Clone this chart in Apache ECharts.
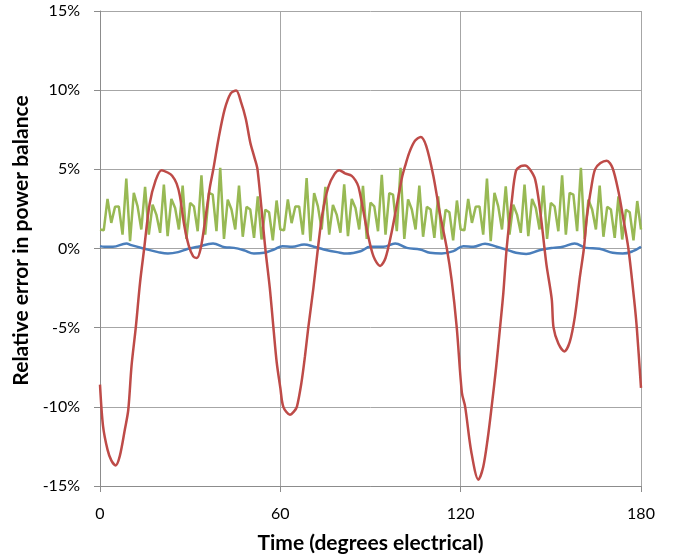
<!DOCTYPE html>
<html>
<head>
<meta charset="utf-8">
<script src="https://cdn.jsdelivr.net/npm/echarts@6/dist/echarts.min.js"></script>
<style>
html,body{margin:0;padding:0;background:#fff;}
#chart{width:681px;height:559px;}
</style>
</head>
<body>
<div id="chart"></div>
<script>
// Red series (degrees, %)
const redDeg = [0,1,2.5,3.8,5.2,6.6,8.3,9.4,10.5,11.9,13.3,14.7,16.5,18.5,20.5,22.5,24,25.5,26.6,28,29.5,31,32.2,33.5,35,36.5,37.7,39.5,41.5,43.5,45.3,47,48.5,50,51.3,52.4,55,56.5,57.7,58.8,60,61,63.2,64.5,65.5,67,68.2,69.3,71,72.5,74,76,78,79.6,81.5,83.7,85,86,87.5,89,91,93.2,95,97,99,100.5,101.5,103,104.8,106.7,108.5,110.9,113,115.4,117,118.7,120.4,121.5,123.5,125.9,127.5,129,130.3,131.8,133.1,134.2,135.3,137,138.4,140,141.4,143,144.8,146.5,147.9,148.6,150.3,150.9,152.5,154.5,156.3,158,159.7,161,162,163.5,164.7,166.5,168.6,170.5,172.5,174,175.8,177.7,178.6,180];
const redVal = [-8.6,-11.2,-12.7,-13.4,-13.7,-13.1,-11.4,-10.2,-7.4,-5,-2.2,0,2.8,4.3,4.95,4.8,4.6,4.1,3.3,1.5,0.2,-0.5,-0.6,0,1.8,3.8,5,7,8.8,9.8,9.98,9.2,8.2,6.7,5.8,5,0,-2.5,-5,-7.2,-8.8,-10,-10.5,-10.3,-10,-8.5,-6.8,-5,-2.5,0,2.2,3.9,4.7,4.95,4.75,4.6,4.3,3.9,2.5,1,-0.5,-1.1,-0.6,1.0,3,4.5,5.2,6.1,6.8,7.05,6.5,4.6,2.3,0,-2,-5,-9.1,-10,-12.8,-14.6,-13.8,-12,-10,-7.5,-5,-2.8,0,3,4.9,5.2,5.25,5.0,4.35,2.3,0,-1.1,-3.2,-5,-6.0,-6.5,-5.9,-4.3,-1.75,0,2.0,3.9,5,5.4,5.55,5.1,3.6,2,0,-3.2,-5,-8.8];

// Blue series (degrees, %)
const blueDeg = [0,1.5,4.3,8.8,10.4,14.9,19.3,22.6,26,29.3,32.6,37.6,41.5,44.6,47.9,51.2,54.6,57.9,60.7,64,67.9,71.2,74.5,78.9,82.3,86.7,89.9,94.3,98.2,102.1,106.5,109.8,113.7,117.6,120.9,124.2,128.1,132,135.1,138.4,141.8,146.2,150.7,154,157.9,161.7,166.2,170.6,173.9,177.3,180];
const blueVal = [0.15,0.11,0.11,0.32,0.21,-0.02,-0.23,-0.32,-0.23,-0.02,0.11,0.32,0.08,0.04,-0.11,-0.32,-0.27,-0.06,0.15,0.11,0.25,0.11,-0.06,-0.23,-0.32,-0.17,0.11,0.11,0.32,0.04,-0.06,-0.27,-0.32,-0.17,0.15,0.11,0.30,0.11,-0.06,-0.27,-0.34,-0.11,0.04,0.11,0.32,0.04,-0.02,-0.27,-0.32,-0.17,0.11];

// Green series (degrees, %)
const greenDeg = [0,1.25,2.5,3.75,5,6.25,7.5,8.75,10,11.25,12.5,13.75,15,16.25,17.5,18.75,20,21.25,22.5,23.75,25,26.25,27.5,28.75,30,31.25,32.5,33.75,35,36.25,37.5,38.75,40,41.25,42.5,43.75,45,46.25,47.5,48.75,50,51.25,52.5,53.75,55,56.25,57.5,58.75,
60,61.25,62.5,63.75,65,66.25,67.5,68.75,70,71.25,72.5,73.75,75,76.25,77.5,78.75,80,81.25,82.5,83.75,85,86.25,87.5,88.75,90,91.25,92.5,93.75,95,96.25,97.5,98.75,100,101.25,102.5,103.75,105,106.25,107.5,108.75,110,111.25,112.5,113.75,115,116.25,117.5,118.75,
120,121.25,122.5,123.75,125,126.25,127.5,128.75,130,131.25,132.5,133.75,135,136.25,137.5,138.75,140,141.25,142.5,143.75,145,146.25,147.5,148.75,150,151.25,152.5,153.75,155,156.25,157.5,158.75,160,161.25,162.5,163.75,165,166.25,167.5,168.75,170,171.25,172.5,173.75,175,176.25,177.5,178.75,180];
const greenVal = [1.2,1.15,3.13,1.62,2.63,2.66,0.88,4.41,0.46,3.51,2.66,1.2,3.89,0.88,2.77,2.14,0.99,4.04,0.78,3.13,2.56,1.2,3.97,0.61,2.88,2.66,1.09,4.62,0.88,3.51,3.4,1.09,5.09,0.61,3.09,2.46,1.2,3.97,0.74,2.63,2.46,0.67,3.3,0.57,2.45,2.29,0.52,3.03,
1.2,1.15,3.1,1.6,2.65,2.66,0.88,4.45,0.46,3.5,2.66,1.2,3.9,0.88,2.75,2.14,1.0,4.05,0.78,3.13,2.56,1.2,3.95,0.61,2.9,2.66,1.09,4.65,0.88,3.5,3.4,1.09,5.09,0.61,3.1,2.46,1.2,3.97,0.74,2.63,2.46,0.67,3.3,0.57,2.45,2.29,0.52,3.03,
1.2,1.15,3.13,1.62,2.63,2.66,0.88,4.41,0.46,3.51,2.66,1.2,3.93,0.88,2.77,2.14,0.99,4.04,0.78,3.13,2.56,1.2,3.97,0.61,2.88,2.66,1.09,4.62,0.88,3.51,3.4,1.09,5.09,0.61,3.09,2.46,1.2,3.97,0.74,2.63,2.46,0.67,3.3,0.57,2.45,2.29,0.52,3.0,
1.2];

const xTicks = {min:0, max:180, interval:60};
const yTicks = {min:-15, max:15, interval:5};

function pairs(xs, ys){ return xs.map((x,i)=>[x, ys[i]]); }

const FONT = 'Lato, "Open Sans", sans-serif';
const chart = echarts.init(document.getElementById('chart'), null, {renderer:'canvas'});
chart.setOption({
  animation:false,
  backgroundColor:'#ffffff',
  grid:{left:100, right:40, top:11, bottom:72, containLabel:false},
  xAxis:{
    type:'value', min:xTicks.min, max:xTicks.max, interval:xTicks.interval,
    name:'Time (degrees electrical)', nameLocation:'middle', nameGap:47,
    nameTextStyle:{fontFamily:FONT, fontSize:21, fontWeight:'bold', color:'#000'},
    axisLine:{show:true, onZero:false, lineStyle:{color:'#8c8c8c', width:1}},
    axisTick:{show:true, length:6, lineStyle:{color:'#8c8c8c'}},
    axisLabel:{fontFamily:FONT, fontSize:16, color:'#000', margin:20},
    splitLine:{show:true, lineStyle:{color:'#a6a6a6', width:1}}
  },
  yAxis:{
    type:'value', min:yTicks.min, max:yTicks.max, interval:yTicks.interval,
    name:'Relative error in power balance', nameLocation:'middle', nameGap:63,
    nameTextStyle:{fontFamily:FONT, fontSize:21, fontWeight:'bold', color:'#000', padding:[0,0,0,16]},
    axisLine:{show:true, lineStyle:{color:'#8c8c8c', width:1}},
    axisTick:{show:true, length:6, lineStyle:{color:'#8c8c8c'}},
    axisLabel:{fontFamily:FONT, fontSize:16, color:'#000', margin:20, formatter:'{value}%'},
    splitLine:{show:true, lineStyle:{color:'#a6a6a6', width:1}}
  },
  series:[
    {name:'Blue', type:'line', data:pairs(blueDeg, blueVal), showSymbol:false, smooth:0.4,
     lineStyle:{color:'#4a7ebb', width:2.5}, itemStyle:{color:'#4a7ebb'}},
    {name:'Green', type:'line', data:pairs(greenDeg, greenVal), showSymbol:false, smooth:false,
     lineStyle:{color:'#98b954', width:2.5}, itemStyle:{color:'#98b954'}},
    {name:'Red', type:'line', data:pairs(redDeg, redVal), showSymbol:false, smooth:0.3,
     lineStyle:{color:'#be4b48', width:2.5}, itemStyle:{color:'#be4b48'}}
  ]
});
</script>
</body>
</html>
